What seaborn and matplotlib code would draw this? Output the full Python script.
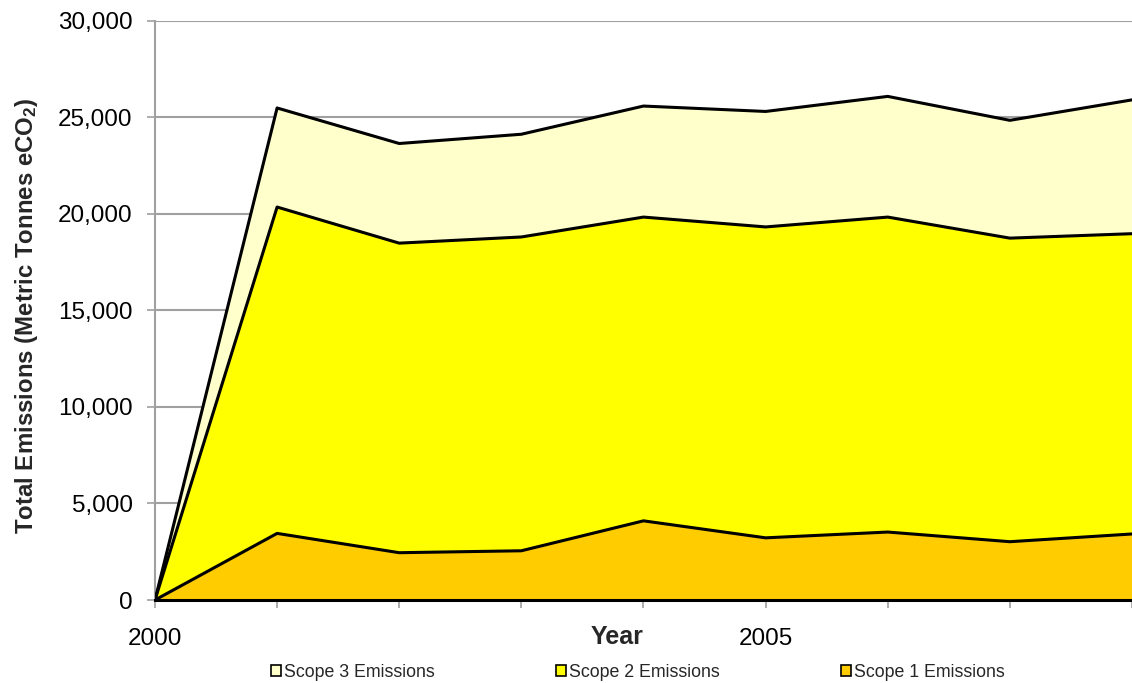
import numpy as np
import pandas as pd
import matplotlib
matplotlib.use("Agg")
import matplotlib.pyplot as plt
import seaborn as sns
from matplotlib.patches import Patch
from matplotlib.ticker import FuncFormatter, MultipleLocator

# ---- data ----
years = [2000, 2001, 2002, 2003, 2004, 2005, 2006, 2007, 2008]
scope1 = [0, 3450, 2450, 2550, 4100, 3220, 3520, 3020, 3420]
scope2 = [0, 16900, 16030, 16250, 15730, 16100, 16310, 15720, 15550]
scope3 = [0, 5130, 5160, 5320, 5750, 5980, 6250, 6100, 6930]
series_names = ["Scope 1 Emissions", "Scope 2 Emissions", "Scope 3 Emissions"]
xtick_labels = {2000: "2000", 2005: "2005"}

sns.set_theme(style="white")
plt.rcParams["font.family"] = ["Liberation Sans", "DejaVu Sans"]
plt.rcParams["mathtext.fontset"] = "custom"
plt.rcParams["mathtext.rm"] = "Liberation Sans"
plt.rcParams["mathtext.default"] = "regular"

df = pd.DataFrame({"Year": years, "s1": scope1, "s2": scope2, "s3": scope3})
df["c1"] = df["s1"]
df["c2"] = df["s1"] + df["s2"]
df["c3"] = df["c2"] + df["s3"]

colors = {"Scope 1 Emissions": "#FFCC00", "Scope 2 Emissions": "#FFFF00",
          "Scope 3 Emissions": "#FFFFCC"}

fig = plt.figure(figsize=(11.32, 6.83), dpi=100)
ax = fig.add_axes([0.1369, 0.1215, 1.0 - 0.1369, 0.9697 - 0.1215])

ax.fill_between(df["Year"], 0, df["c1"], color=colors["Scope 1 Emissions"], lw=0, zorder=2)
ax.fill_between(df["Year"], df["c1"], df["c2"], color=colors["Scope 2 Emissions"], lw=0, zorder=2)
ax.fill_between(df["Year"], df["c2"], df["c3"], color=colors["Scope 3 Emissions"], lw=0, zorder=2)

long = df.melt(id_vars="Year", value_vars=["c1", "c2", "c3"], var_name="layer", value_name="val")
sns.lineplot(data=long, x="Year", y="val", units="layer", estimator=None,
             color="black", lw=2.2, ax=ax, zorder=3, legend=False)

ax.set_xlim(2000, 2007.95)
ax.set_ylim(0, 30000)
ax.yaxis.set_major_locator(MultipleLocator(5000))
ax.yaxis.set_major_formatter(FuncFormatter(lambda v, p: f"{int(v):,}"))
ax.set_xticks(years)
ax.set_xticklabels([xtick_labels.get(y, "") for y in years])

ax.grid(axis="y", color="#a0a0a0", lw=1.5, zorder=1)
ax.grid(axis="x", visible=False)
ax.set_axisbelow(True)

for s in ["top", "right"]:
    ax.spines[s].set_visible(False)
ax.spines["left"].set_color("#a0a0a0")
ax.spines["left"].set_linewidth(1.5)
ax.spines["bottom"].set_color("black")
ax.spines["bottom"].set_linewidth(2.2)
ax.spines["bottom"].set_zorder(4)

ax.tick_params(axis="y", which="major", left=True, length=6, width=1.2,
               color="#a0a0a0", pad=10, labelsize=17.5, labelcolor="black")
ax.tick_params(axis="x", which="major", bottom=True, length=6, width=1.2,
               color="#a0a0a0", pad=14, labelsize=17.5, labelcolor="black")

ax.set_ylabel("Total Emissions (Metric Tonnes eCO$_2$)", fontsize=17.3,
              fontweight="bold")
ax.yaxis.set_label_coords(-0.118, 0.49)
ax.set_xlabel("Year", fontsize=18, fontweight="bold")
ax.xaxis.set_label_coords(0.473, -0.064)
ax.xaxis.label.set_va("center")

handles = [Patch(facecolor=colors[n], edgecolor="black", lw=1.2, label=n)
           for n in ["Scope 3 Emissions", "Scope 2 Emissions", "Scope 1 Emissions"]]
fig.legend(handles=handles, loc="center", bbox_to_anchor=(0.5636, 0.016), ncol=3,
           frameon=False, fontsize=12.8, handlelength=0.55, handleheight=0.55,
           handletextpad=0.2, columnspacing=6.8)

fig.savefig("out.png", dpi=100)
